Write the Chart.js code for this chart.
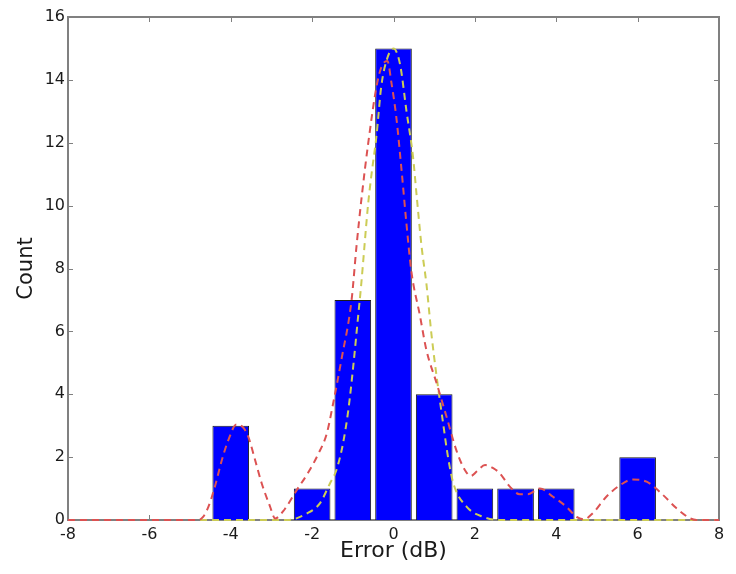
<!DOCTYPE html>
<html>
<head>
<meta charset="utf-8">
<script src="https://cdn.jsdelivr.net/npm/chart.js@4/dist/chart.umd.min.js"></script>
<style>
  html, body { margin: 0; padding: 0; background: #fff; }
  canvas { display: block; }
</style>
</head>
<body>
<canvas id="errChart" width="736" height="574"></canvas>
<script>
// histogram of errors
const binCenters = [-4, -2, -1, 0, 1, 2, 3, 4, 6];
const binCounts = [3, 1, 7, 15, 4, 1, 1, 1, 2];

// red dashed curve
const kdeX = [-8, -6, -4.8, -4.68, -4.55, -4.39, -4.22, -4.06, -3.86, -3.7, -3.57, -3.4, -3.24, -3.04, -2.91,
  -2.67, -2.38, -2.1, -1.85, -1.64, -1.5, -1.28, -1.03, -0.91, -0.78, -0.62, -0.43, -0.3, -0.15, -0.05,
  0.07, 0.2, 0.32, 0.44, 0.65, 0.81, 1.06, 1.3, 1.55, 1.75, 1.9, 2.05, 2.25, 2.45, 2.61, 2.86, 3.1, 3.3,
  3.6, 3.92, 4.25, 4.5, 4.68, 4.9, 5.23, 5.56, 5.88, 6.22, 6.62, 6.95, 7.28, 7.45, 8];
const kdeY = [0, 0, 0, 0.1, 0.42, 1.06, 1.9, 2.54, 3.04, 2.95, 2.65, 1.9, 1.17, 0.45, 0.05,
  0.35, 0.95, 1.5, 2.1, 2.75, 3.6, 5.1, 7.0, 8.7, 10.3, 12.0, 13.7, 14.4, 14.6, 13.9,
  12.8, 11.1, 9.4, 7.9, 6.5, 5.4, 4.35, 3.3, 2.2, 1.6, 1.4, 1.55, 1.75, 1.65, 1.49, 1.06, 0.82, 0.82,
  1.0, 0.74, 0.42, 0.1, 0.02, 0.22, 0.74, 1.1, 1.29, 1.22, 0.8, 0.38, 0.06, 0, 0];

// yellow dashed curve
const fitX = [-8, -2.6, -2.14, -1.81, -1.56, -1.4, -1.24, -1.11, -0.99, -0.87, -0.8, -0.62, -0.54, -0.42,
  -0.3, -0.15, 0, 0.16, 0.32, 0.48, 0.57, 0.69, 0.81, 0.93, 1.06, 1.22, 1.34, 1.47, 1.8, 2.2, 2.6, 8];
const fitY = [0, 0, 0.2, 0.53, 1.17, 1.6, 2.44, 3.5, 4.88, 6.47, 7.4, 10.1, 11.0, 12.2,
  13.8, 14.7, 15, 14.5, 13.0, 11.55, 10.3, 8.7, 7.5, 5.94, 4.56, 3.07, 2.0, 1.17, 0.42, 0.1, 0, 0];

const xTicks = [-8, -6, -4, -2, 0, 2, 4, 6, 8];
const yTicks = [0, 2, 4, 6, 8, 10, 12, 14, 16];

Chart.defaults.font.family = "'DejaVu Sans', sans-serif";
Chart.defaults.color = '#1a1a1a';

const zip = (xs, ys) => xs.map((x, i) => ({ x: x, y: ys[i] }));

// frame + inward ticks on all four sides, matplotlib style (drawn under the data)
const frameTicks = {
  id: 'frameTicks',
  beforeDatasetsDraw(chart) {
    const { ctx, chartArea: a, scales: { x, y } } = chart;
    const len = 5;
    ctx.save();
    ctx.strokeStyle = '#808080';
    ctx.lineWidth = 1;
    ctx.beginPath();
    xTicks.forEach(v => {
      const px = Math.round(x.getPixelForValue(v)) + 0.5;
      ctx.moveTo(px, a.bottom); ctx.lineTo(px, a.bottom - len);
      ctx.moveTo(px, a.top); ctx.lineTo(px, a.top + len);
    });
    yTicks.forEach(v => {
      const py = Math.round(y.getPixelForValue(v)) + 0.5;
      ctx.moveTo(a.left, py); ctx.lineTo(a.left + len, py);
      ctx.moveTo(a.right, py); ctx.lineTo(a.right - len, py);
    });
    ctx.stroke();
    ctx.lineWidth = 2;
    ctx.strokeRect(a.left, a.top, a.right - a.left, a.bottom - a.top);
    ctx.restore();
  }
};

new Chart(document.getElementById('errChart'), {
  type: 'bar',
  data: {
    datasets: [
      {
        type: 'line',
        data: zip(fitX, fitY),
        borderColor: '#cccc55',
        borderWidth: 2,
        borderDash: [7, 5],
        pointRadius: 0,
        cubicInterpolationMode: 'monotone',
        clip: false,
        order: 1
      },
      {
        type: 'line',
        data: zip(kdeX, kdeY),
        borderColor: '#dc5252',
        borderWidth: 2,
        borderDash: [7, 5],
        pointRadius: 0,
        cubicInterpolationMode: 'monotone',
        clip: false,
        order: 0
      },
      {
        type: 'bar',
        data: zip(binCenters, binCounts),
        backgroundColor: '#0000ff',
        borderColor: '#1a1a1a',
        borderWidth: 1,
        categoryPercentage: 1,
        barPercentage: 0.9,
        order: 2
      }
    ]
  },
  options: {
    responsive: false,
    animation: false,
    devicePixelRatio: 1,
    layout: { padding: { top: 17, right: 17, bottom: 0, left: 0 } },
    plugins: { legend: { display: false }, tooltip: { enabled: false } },
    scales: {
      x: {
        type: 'linear',
        min: -8, max: 8,
        offset: false,
        afterBuildTicks: s => { s.ticks = xTicks.map(v => ({ value: v })); },
        afterFit: s => { s.height = 54; },
        grid: { display: false, drawTicks: false },
        border: { display: false },
        ticks: { font: { size: 16 }, padding: 5, maxRotation: 0 },
        title: { display: true, text: 'Error (dB)', font: { size: 22 }, padding: { top: 0, bottom: 10 } }
      },
      y: {
        min: 0, max: 16,
        afterBuildTicks: s => { s.ticks = yTicks.map(v => ({ value: v })); },
        afterFit: s => { s.width = 68; },
        grid: { display: false, drawTicks: false },
        border: { display: false },
        ticks: { font: { size: 16 }, padding: 3 },
        title: { display: true, text: 'Count', font: { size: 21 }, padding: { top: 14, bottom: 0 } }
      }
    }
  },
  plugins: [frameTicks]
});
</script>
</body>
</html>
